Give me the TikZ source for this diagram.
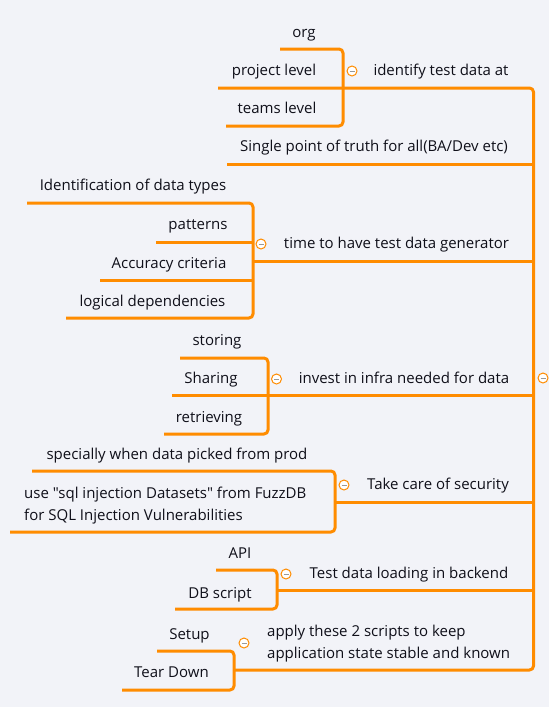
\documentclass[tikz,border=0pt]{standalone}
\usepackage{fontspec}
\setmainfont{Open Sans}[Ligatures=TeXOff]
\definecolor{bg}{RGB}{242,243,248}
\definecolor{orn}{RGB}{255,140,0}
\definecolor{txt}{RGB}{15,15,25}
\begin{document}
\begin{tikzpicture}[x=1pt,y=-1pt,
  topic/.style={font=\fontsize{15}{21.5}\selectfont, text=txt, inner sep=0pt, anchor=base},
  conn/.style={draw=orn, line width=3pt, rounded corners=4pt, line join=round},
  collapse/.style={circle, draw=orn, line width=1pt, fill=white, minimum size=10pt, inner sep=0pt,
    path picture={\draw[gray!80, line width=1pt] ([xshift=-2.5pt]path picture bounding box.center) -- ([xshift=2.5pt]path picture bounding box.center);}}]
\fill[bg] (0,0) rectangle (549,707);
\useasboundingbox (0,0) rectangle (549,707);

% ---------- coordinates ----------
\coordinate (spT) at (533.5,88);
\coordinate (spB) at (533.5,670);
% branch 1
\coordinate (b1m) at (218,88);
\coordinate (b1a) at (280,49);
\coordinate (b1v1) at (343,49);
\coordinate (b1v2) at (343,126);
\coordinate (b1c) at (226,126);
% branch 2
\coordinate (b2s) at (227,164);
\coordinate (b2e) at (533.5,164);
% branch 3
\coordinate (b3m) at (253,261);
\coordinate (b3e) at (533.5,261);
\coordinate (b3a) at (27,203);
\coordinate (b3v1) at (253,203);
\coordinate (b3v2) at (253,318);
\coordinate (b3d) at (66,318);
\coordinate (b3b) at (156,242);
\coordinate (b3bx) at (253,242);
\coordinate (b3c) at (100,280);
\coordinate (b3cx) at (253,280);
% branch 4
\coordinate (b4m) at (172,395);
\coordinate (b4e) at (533.5,395);
\coordinate (b4a) at (180,358);
\coordinate (b4v1) at (268,358);
\coordinate (b4v2) at (268,434);
\coordinate (b4c) at (164,434);
% branch 5
\coordinate (b5m) at (335,502);
\coordinate (b5e) at (533.5,502);
\coordinate (b5a) at (32,471);
\coordinate (b5v1) at (335,471);
\coordinate (b5v2) at (335,532);
\coordinate (b5b) at (10,532);
% branch 6
\coordinate (b6m) at (277,590);
\coordinate (b6e) at (533.5,590);
\coordinate (b6a) at (216,570);
\coordinate (b6v1) at (277,570);
\coordinate (b6v2) at (277,609);
\coordinate (b6b) at (175,609);
% branch 7
\coordinate (b7m) at (234,670);
\coordinate (b7a) at (157,651);
\coordinate (b7v1) at (234,651);
\coordinate (b7v2) at (234,690);
\coordinate (b7b) at (122,690);

% ---------- connectors ----------
\draw[conn] (b1m) -- (spT) -- (spB) -- (b7m);
\draw[conn] (b1a) -- (b1v1) -- (b1v2) -- (b1c);
\draw[conn] (b2s) -- (b2e);
\draw[conn] (b3m) -- (b3e);
\draw[conn] (b3a) -- (b3v1) -- (b3v2) -- (b3d);
\draw[conn] (b3b) -- (b3bx);
\draw[conn] (b3c) -- (b3cx);
\draw[conn] (b4m) -- (b4e);
\draw[conn] (b4a) -- (b4v1) -- (b4v2) -- (b4c);
\draw[conn] (b5m) -- (b5e);
\draw[conn] (b5a) -- (b5v1) -- (b5v2) -- (b5b);
\draw[conn] (b6m) -- (b6e);
\draw[conn] (b6a) -- (b6v1) -- (b6v2) -- (b6b);
\draw[conn] (b7a) -- (b7v1) -- (b7v2) -- (b7b);

% ---------- collapse markers ----------
\node[collapse] (c1) at (352,71) {};
\node[collapse] (c3) at (261,244) {};
\node[collapse] (c4) at (276.5,379) {};
\node[collapse] (c5) at (344,485) {};
\node[collapse] (c6) at (286,574) {};
\node[collapse] (c7) at (244,643) {};
\node[collapse] (c0) at (543,378) {};

% ---------- topics ----------
\node[topic] (org) at (304,37.5) {org};
\node[topic] (proj) at (274,75.5) {project level};
\node[topic] (teams) at (277,113.5) {teams level};
\node[topic] (ident) at (441,75.5) {identify test data at};
\node[topic] (single) at (374,151.5) {Single point of truth for all(BA/Dev etc)};
\node[topic] (idtypes) at (133,190.5) {Identification of data types};
\node[topic] (patt) at (198,229.5) {patterns};
\node[topic] (acc) at (169,268.5) {Accuracy criteria};
\node[topic] (logic) at (152.5,306.5) {logical dependencies};
\node[topic] (gen) at (396.5,248.5) {time to have test data generator};
\node[topic] (stor) at (217,345.5) {storing};
\node[topic] (shar) at (211,383.5) {Sharing};
\node[topic] (retr) at (209,422.5) {retrieving};
\node[topic] (infra) at (404,383.5) {invest in infra needed for data};
\node[topic] (prod) at (177,459.5) {specially when data picked from prod};
\node[topic, anchor=west, align=left] (sql) at (24,505.5) {use "sql injection Datasets" from FuzzDB\\for SQL Injection Vulnerabilities};
\node[topic] (sec) at (438,489.5) {Take care of security};
\node[topic] (api) at (240,558.5) {API};
\node[topic] (dbs) at (220,598.5) {DB script};
\node[topic] (load) at (409,578.5) {Test data loading in backend};
\node[topic] (setup) at (189.5,639.5) {Setup};
\node[topic] (tear) at (171.5,677.5) {Tear Down};
\node[topic, anchor=west, align=left, font=\fontsize{15}{22}\selectfont] (apply) at (267,643.6) {apply these 2 scripts to keep\\application state stable and known};
\end{tikzpicture}
\end{document}
